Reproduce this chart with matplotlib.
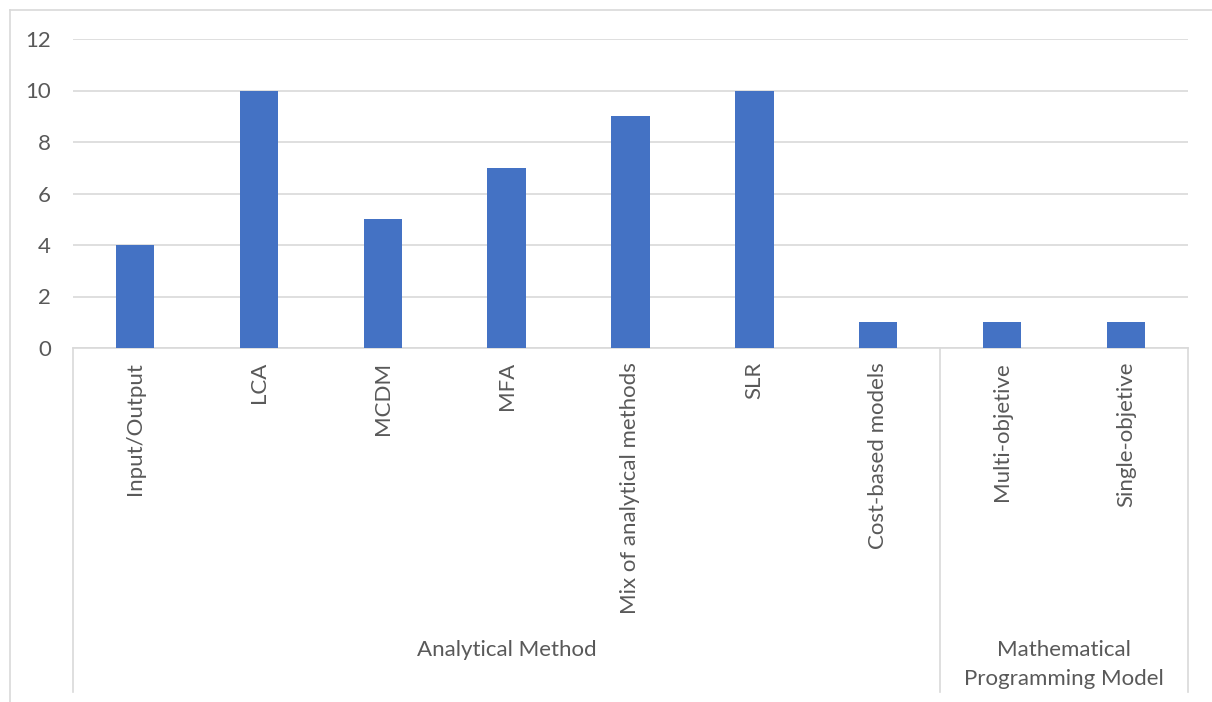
import matplotlib.pyplot as plt
from matplotlib.transforms import blended_transform_factory
from matplotlib.lines import Line2D

methods = ['Input/Output', 'LCA', 'MCDM', 'MFA', 'Mix of analytical methods',
           'SLR', 'Cost-based models', 'Multi-objetive', 'Single-objetive']
counts = [4, 10, 5, 7, 9, 10, 1, 1, 1]
groups = ['Analytical Method', 'Mathematical\nProgramming Model']
group_sizes = [7, 2]

W, H = 1212, 702
plt.rcParams['font.family'] = ['Lato', 'DejaVu Sans']
text_color = '#595959'
line_color = '#d9d9d9'
bar_color = '#4472c4'
fs = 16

fig = plt.figure(figsize=(W / 100, H / 100), dpi=100)


def px_x(x):
    return x / W


def px_y(y):
    return 1 - y / H


ax = fig.add_axes([px_x(73), px_y(348), px_x(1188) - px_x(73), px_y(39) - px_y(348)])
x = list(range(len(methods)))
ax.bar(x, counts, width=0.31, color=bar_color, zorder=3)
ax.set_xlim(-0.5, len(methods) - 0.5)
ax.set_ylim(0, 12)
ax.set_yticks(range(0, 13, 2))
ax.grid(axis='y', color=line_color, linewidth=1.2, zorder=0)
for side in ['top', 'right', 'left']:
    ax.spines[side].set_visible(False)
ax.spines['bottom'].set_color(line_color)
ax.spines['bottom'].set_linewidth(1.2)
ax.set_xticks(x)
ax.set_xticklabels(methods, rotation=90, va='top', ha='center')
ax.tick_params(axis='x', length=0, pad=10, labelsize=fs, labelcolor=text_color)
ax.tick_params(axis='y', length=0, pad=16, labelsize=fs, labelcolor=text_color)

# group dividers and group labels under the category axis
trans = blended_transform_factory(ax.transData, fig.transFigure)
edges = [-0.5]
for n in group_sizes:
    edges.append(edges[-1] + n)
for e in edges:
    ax.add_line(Line2D([e, e], [px_y(348), px_y(692)], transform=trans,
                       color=line_color, linewidth=1.2, clip_on=False))
for g, a, b in zip(groups, edges[:-1], edges[1:]):
    ax.text((a + b) / 2, px_y(640), g, transform=trans, ha='center', va='top',
            fontsize=fs, color=text_color, linespacing=1.55,
            multialignment='center')

# chart area border
fig.add_artist(Line2D([px_x(10), 1], [px_y(10), px_y(10)], color=line_color, linewidth=1.2))
fig.add_artist(Line2D([px_x(10), px_x(10)], [px_y(10), 0], color=line_color, linewidth=1.2))

fig.savefig('out.png', dpi=100)
